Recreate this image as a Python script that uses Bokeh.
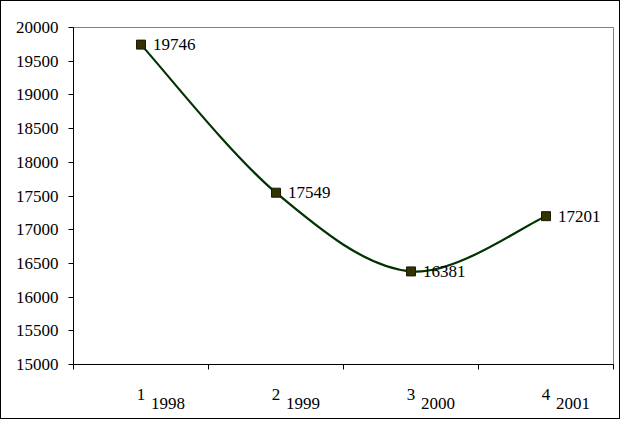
from bokeh.plotting import figure
from bokeh.models import FixedTicker, Range1d, ColumnDataSource, LinearAxis
from bokeh.embed import file_html
from bokeh.resources import INLINE

# data
index = [1, 2, 3, 4]
years = ["1998", "1999", "2000", "2001"]
values = [19746, 17549, 16381, 17201]
y_ticks = [15000, 15500, 16000, 16500, 17000, 17500, 18000, 18500, 19000, 19500, 20000]

FONT = "Liberation Serif"
FS = "17px"

p = figure(width=620, height=419, output_backend="svg", toolbar_location=None,
           x_range=Range1d(0.5, 4.5), y_range=Range1d(15000, 20000),
           min_border_left=72, min_border_right=8, min_border_top=26, min_border_bottom=56)
p.styles = {"border": "1px solid black", "box-sizing": "border-box"}
p.grid.visible = False
p.outline_line_color = "#808080"
p.outline_line_width = 1

# y axis
p.yaxis.ticker = FixedTicker(ticks=y_ticks)
p.yaxis.major_tick_out = 5
p.yaxis.major_tick_in = 0
p.yaxis.minor_tick_line_color = None
p.yaxis.axis_line_color = "black"
p.yaxis.major_tick_line_color = "black"
p.yaxis.major_label_text_font = FONT
p.yaxis.major_label_text_font_size = FS
p.yaxis.major_label_text_color = "black"
p.yaxis.major_label_standoff = 10

# x axis: labels at centres, tick marks at category boundaries (minor ticks)
p.xaxis.ticker = FixedTicker(ticks=index,
                             minor_ticks=[i - 0.5 for i in index] + [index[-1] + 0.5])
p.xaxis.major_label_overrides = {i: str(i) for i in index}
p.xaxis.major_tick_line_color = None
p.xaxis.major_tick_out = 0
p.xaxis.major_tick_in = 0
p.xaxis.minor_tick_out = 5
p.xaxis.minor_tick_in = 0
p.xaxis.minor_tick_line_color = "black"
p.xaxis.axis_line_color = "black"
p.xaxis.major_label_text_font = FONT
p.xaxis.major_label_text_font_size = FS
p.xaxis.major_label_text_color = "black"
p.xaxis.major_label_standoff = 19

# year labels: second axis on a slightly shifted range
shift = 0.2
p.extra_x_ranges = {"yr": Range1d(0.5 - shift, 4.5 - shift)}
yax = LinearAxis(x_range_name="yr", ticker=FixedTicker(ticks=index),
                 major_label_overrides={i: y for i, y in zip(index, years)},
                 axis_line_color=None, major_tick_line_color=None,
                 minor_tick_line_color=None, major_tick_out=0, major_tick_in=0,
                 major_label_standoff=-5, major_label_text_font=FONT,
                 major_label_text_font_size=FS, major_label_text_color="black")
p.add_layout(yax, "below")

# smoothed line (Catmull-Rom -> Bezier from the data points)
n = len(index)
x0, y0, x1, y1, cx0, cy0, cx1, cy1 = [], [], [], [], [], [], [], []
for i in range(n - 1):
    pa = i - 1 if i > 0 else i
    pd = i + 2 if i + 2 < n else i + 1
    x0.append(index[i]); y0.append(values[i])
    x1.append(index[i + 1]); y1.append(values[i + 1])
    cx0.append(index[i] + (index[i + 1] - index[pa]) / 6)
    cy0.append(values[i] + (values[i + 1] - values[pa]) / 6)
    cx1.append(index[i + 1] - (index[pd] - index[i]) / 6)
    cy1.append(values[i + 1] - (values[pd] - values[i]) / 6)
p.bezier(x0=x0, y0=y0, x1=x1, y1=y1, cx0=cx0, cy0=cy0, cx1=cx1, cy1=cy1,
         line_color="#003300", line_width=2.2)

src = ColumnDataSource(dict(x=index, y=values, t=[str(v) for v in values]))
p.scatter("x", "y", source=src, marker="square", size=9,
          fill_color="#333300", line_color="#1a1a00", line_width=1)
p.text("x", "y", text="t", source=src, x_offset=12, text_baseline="middle",
       text_align="left", text_font_size=FS, text_color="black",
       text_font={"value": FONT})

open("out.html", "w").write(file_html(p, INLINE))
